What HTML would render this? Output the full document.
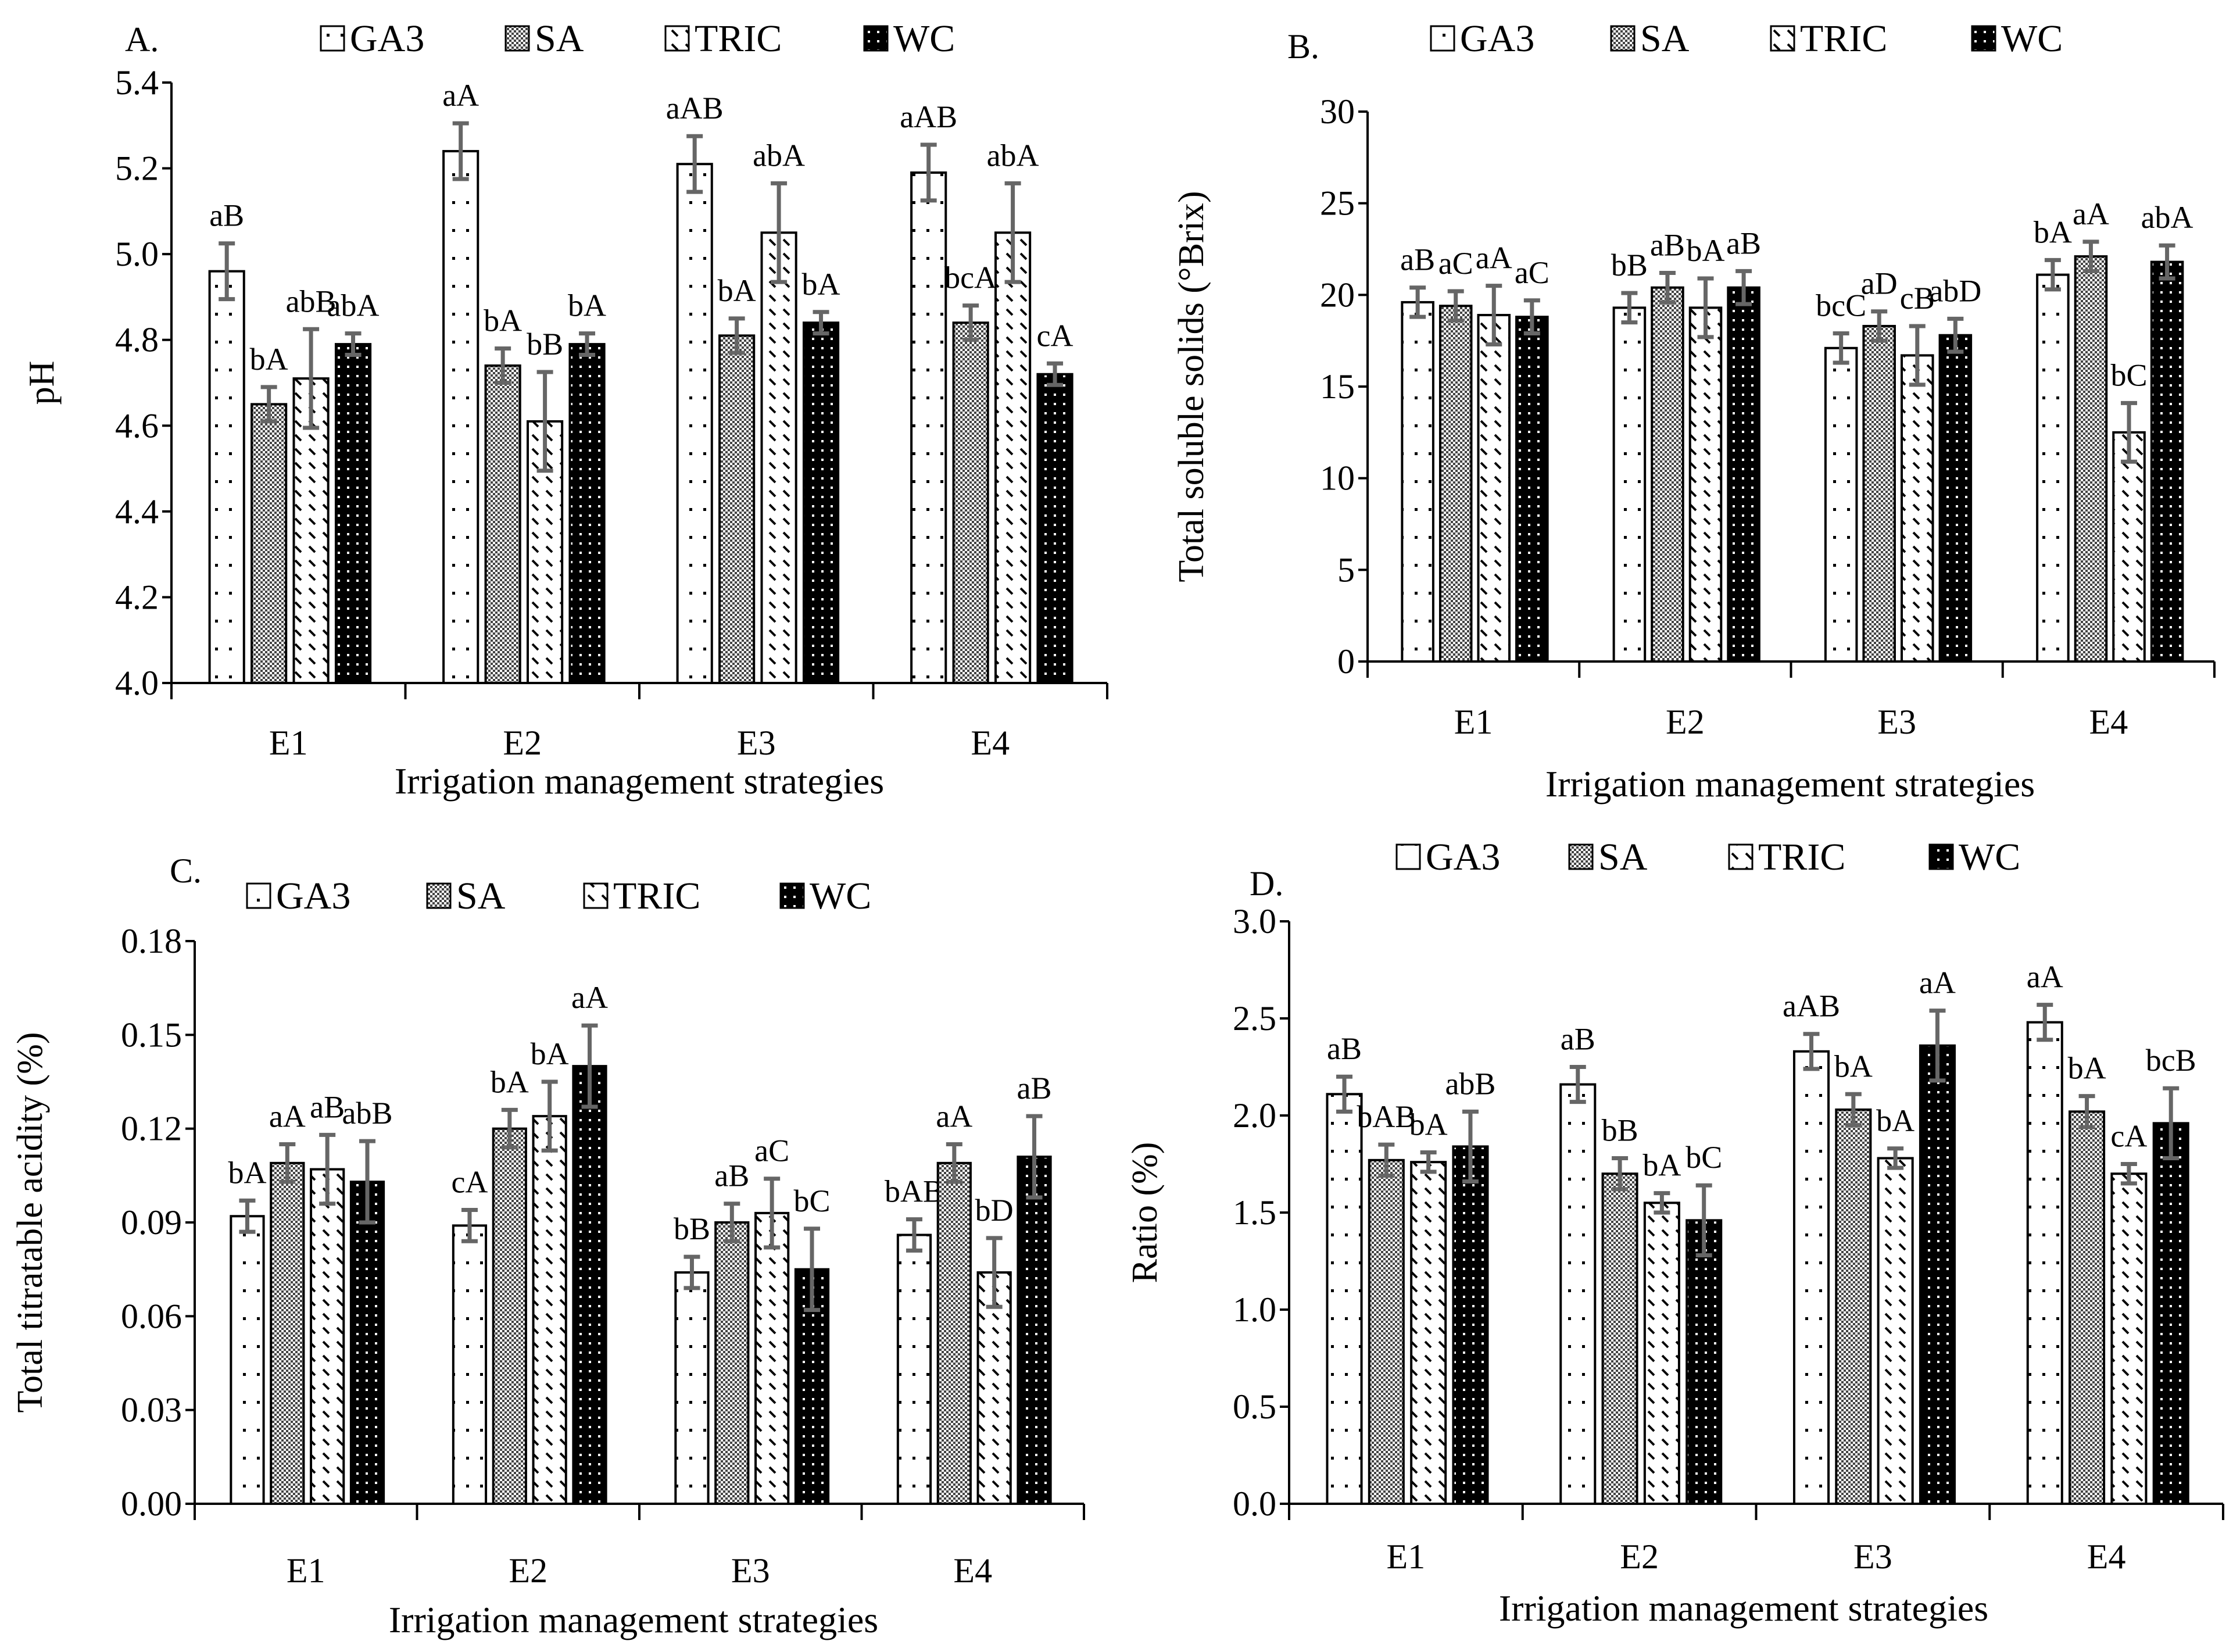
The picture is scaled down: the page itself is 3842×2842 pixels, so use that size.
<!DOCTYPE html>
<html><head><meta charset="utf-8"><style>
body{margin:0;background:#fff}
svg{display:block}
text{font-family:"Liberation Serif",serif;fill:#000}
</style></head><body>
<svg id="chart" width="3842" height="2842" viewBox="0 0 3842 2842" xmlns="http://www.w3.org/2000/svg">
<defs>
<pattern id="pGA3" width="24" height="48" patternUnits="userSpaceOnUse"><rect width="24" height="48" fill="#fff"/><rect x="10" y="10" width="5" height="5" fill="#000"/></pattern>
<pattern id="pSA" width="8" height="8" patternUnits="userSpaceOnUse"><rect width="8" height="8" fill="#fff"/><rect width="4" height="4" fill="#444"/><rect x="4" y="4" width="4" height="4" fill="#444"/></pattern>
<pattern id="pTRIC" width="24" height="24" patternUnits="userSpaceOnUse"><rect width="24" height="24" fill="#fff"/><line x1="4" y1="4" x2="14" y2="14" stroke="#000" stroke-width="4"/></pattern>
<pattern id="pWC" width="16" height="16" patternUnits="userSpaceOnUse"><rect width="16" height="16" fill="#000"/><rect x="5" y="5" width="4" height="4" fill="#fff"/></pattern>
</defs>
</svg>
<script>
const categories=["E1","E2","E3","E4"];
const seriesNames=["GA3","SA","TRIC","WC"];
// Panel A (pH)
const aGA3=[4.96,5.24,5.21,5.19], aSA=[4.65,4.74,4.81,4.84], aTRIC=[4.71,4.61,5.05,5.05], aWC=[4.79,4.79,4.84,4.72];
const aErr=[0.065,0.04,0.115,0.025];
const aLabels=[["aB","bA","abB","abA"],["aA","bA","bB","bA"],["aAB","bA","abA","bA"],["aAB","bcA","abA","cA"]];
const aTicks=[4.0,4.2,4.4,4.6,4.8,5.0,5.2,5.4];
// Panel B (TSS)
const bGA3=[19.6,19.3,17.1,21.1], bSA=[19.4,20.4,18.3,22.1], bTRIC=[18.9,19.3,16.7,12.5], bWC=[18.8,20.4,17.8,21.8];
const bErr=[0.8,0.8,1.6,0.9];
const bLabels=[["aB","aC","aA","aC"],["bB","aB","bA","aB"],["bcC","aD","cB","abD"],["bA","aA","bC","abA"]];
const bTicks=[0,5,10,15,20,25,30];
// Panel C (TTA)
const cGA3=[0.092,0.089,0.074,0.086], cSA=[0.109,0.120,0.090,0.109], cTRIC=[0.107,0.124,0.093,0.074], cWC=[0.103,0.140,0.075,0.111];
const cErr=[0.005,0.006,0.011,0.013];
const cLabels=[["bA","aA","aB","abB"],["cA","bA","bA","aA"],["bB","aB","aC","bC"],["bAB","aA","bD","aB"]];
const cTicks=[0.00,0.03,0.06,0.09,0.12,0.15,0.18];
// Panel D (Ratio)
const dGA3=[2.11,2.16,2.33,2.48], dSA=[1.77,1.70,2.03,2.02], dTRIC=[1.76,1.55,1.78,1.70], dWC=[1.84,1.46,2.36,1.96];
const dErr=[0.09,0.08,0.05,0.18];
const dLabels=[["aB","bAB","bA","abB"],["aB","bB","bA","bC"],["aAB","bA","bA","aA"],["aA","bA","cA","bcB"]];
const dTicks=[0.0,0.5,1.0,1.5,2.0,2.5,3.0];

const svg=document.getElementById('chart');
const NS='http://www.w3.org/2000/svg';
function mk(tag,attrs,parent){const e=document.createElementNS(NS,tag);for(const k in attrs)e.setAttribute(k,attrs[k]);(parent||svg).appendChild(e);return e;}
function txt(s,x,y,size,anchor,parent){const t=mk('text',{x:x,y:y,'font-size':size,'text-anchor':anchor||'middle'},parent);t.textContent=s;return t;}
const fills=['url(#pGA3)','url(#pSA)','url(#pTRIC)','url(#pWC)'];

function panel(id,cfg){
  const g=mk('g',{});
  
  
  const L=cfg.left,R=cfg.right,T=cfg.top,B=cfg.bottom;
  const ymin=cfg.ticks[0],ymax=cfg.ticks[cfg.ticks.length-1];
  const y=v=>B-(v-ymin)/(ymax-ymin)*(B-T);
  const gw=(R-L)/4;
  const x=(ci,si)=>L+ci*gw+gw*0.163+si*gw*0.18;
  const bw=gw*0.147;
  const ya=mk('line',{x1:L,y1:T,x2:L,y2:B,stroke:'#000','stroke-width':4},g);
  
  const xa=mk('line',{x1:L,y1:B,x2:R,y2:B,stroke:'#000','stroke-width':4},g);
  
  cfg.ticks.forEach(v=>{
    mk('line',{x1:L-16,y1:y(v),x2:L,y2:y(v),stroke:'#000','stroke-width':4},g);
    const t=txt(v.toFixed(cfg.dec),L-22,y(v)+20,60,'end',g);
    
  });
  for(let i=0;i<=4;i++) mk('line',{x1:L+i*gw,y1:B,x2:L+i*gw,y2:B+28,stroke:'#000','stroke-width':4},g);
  categories.forEach((c,i)=>{const t=txt(c,L+(i+0.5)*gw,cfg.catY,60,'middle',g);
    });
  const xt=txt('Irrigation management strategies',cfg.xtX,cfg.xtY,64,'middle',g);
  
  const yt=txt(cfg.ytitle,0,0,62,'middle',g);
  yt.setAttribute('transform','translate('+cfg.ytX+','+((T+B)/2)+') rotate(-90)');
  
  const pl=txt(cfg.letter,cfg.letX,cfg.letY,60,'start',g);
  
  cfg.series.forEach((arr,si)=>{
    arr.forEach((v,ci)=>{
      const bx=x(ci,si),by=y(v);
      const r=mk('rect',{x:bx,y:by,width:bw,height:B-by,fill:fills[si],stroke:'#000','stroke-width':4},g);
      
      
      const e=cfg.err[si],cx=bx+bw/2;
      const eb=mk('path',{d:`M${cx},${y(v+e)}V${y(v-e)}M${cx-14},${y(v+e)}H${cx+14}M${cx-14},${y(v-e)}H${cx+14}`,stroke:'#666','stroke-width':7,fill:'none'},g);
      
      const lt=txt(cfg.labels[ci][si],cx,y(v+e)-30,54,'middle',g);
      
    });
  });
  cfg.legX.forEach((lx,i)=>{
    const lg=mk('g',{},g);
    
    
    mk('rect',{x:lx,y:cfg.legY-21,width:40,height:42,fill:fills[i],stroke:'#000','stroke-width':3},lg);
    txt(seriesNames[i],lx+50,cfg.legY+22,66,'start',lg);
  });
}
panel('ph',{left:295,right:1905,top:142,bottom:1175,ticks:aTicks,dec:1,series:[aGA3,aSA,aTRIC,aWC],err:aErr,labels:aLabels,
  catY:1298,xtX:1100,xtY:1365,ytitle:'pH',ytX:92,letter:'A.',letX:215,letY:88,legX:[552,870,1145,1487],legY:66});
panel('tss',{left:2353,right:3810,top:192,bottom:1138,ticks:bTicks,dec:0,series:[bGA3,bSA,bTRIC,bWC],err:bErr,labels:bLabels,
  catY:1262,xtX:3080,xtY:1370,ytitle:'Total soluble solids (°Brix)',ytX:2070,letter:'B.',letX:2215,letY:100,legX:[2462,2772,3047,3393],legY:66});
panel('tta',{left:335,right:1865,top:1619,bottom:2587,ticks:cTicks,dec:2,series:[cGA3,cSA,cTRIC,cWC],err:cErr,labels:cLabels,
  catY:2722,xtX:1090,xtY:2808,ytitle:'Total titratable acidity  (%)',ytX:72,letter:'C.',letX:292,letY:1518,legX:[425,735,1005,1343],legY:1541});
panel('ratio',{left:2218,right:3825,top:1585,bottom:2587,ticks:dTicks,dec:1,series:[dGA3,dSA,dTRIC,dWC],err:dErr,labels:dLabels,
  catY:2698,xtX:3000,xtY:2788,ytitle:'Ratio (%)',ytX:1990,letter:'D.',letX:2150,letY:1540,legX:[2403,2700,2975,3320],legY:1474});
</script>
</body></html>
